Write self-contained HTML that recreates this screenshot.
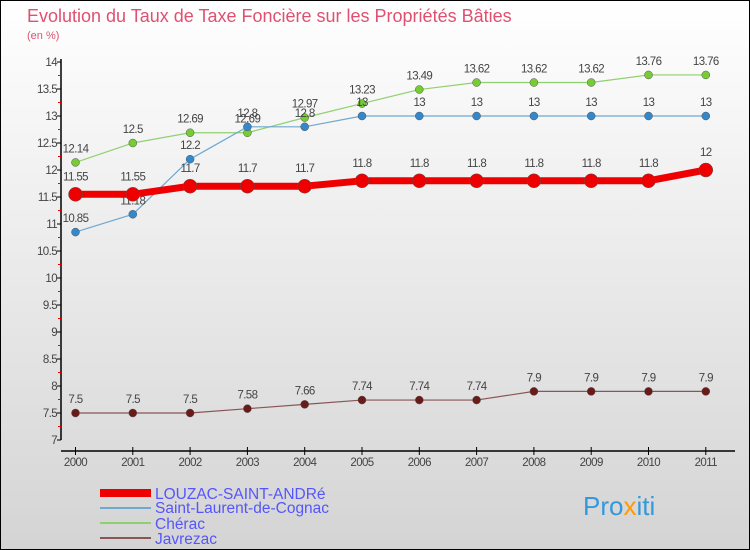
<!DOCTYPE html>
<html><head><meta charset="utf-8"><style>
body{margin:0;width:750px;height:550px;overflow:hidden}
svg{display:block;font-family:"Liberation Sans","DejaVu Sans",sans-serif}
</style></head><body>
<svg width="750" height="550" viewBox="0 0 750 550">
<defs><linearGradient id="bg" x1="0" y1="0" x2="0" y2="1"><stop offset="0" stop-color="#ffffff"/><stop offset="1" stop-color="#d4d4d4"/></linearGradient></defs>
<rect x="0.5" y="0.5" width="749" height="549" fill="url(#bg)" stroke="#000"/>
<text x="27" y="22" font-size="18" fill="#e05070">Evolution du Taux de Taxe Foncière sur les Propriétés Bâties</text>
<text x="27" y="39" font-size="11" fill="#e05070">(en %)</text>
<g id="axes"></g>
<g id="series"></g>
<g>
<rect x="100" y="489" width="51" height="8" fill="#ee0000"/>
<text x="155" y="499" font-size="15.5" fill="#5555ff">LOUZAC-SAINT-ANDRé</text>
<rect x="100" y="507" width="51" height="2" fill="#6fa8d0"/>
<text x="155" y="513" font-size="15.5" fill="#5555ff">Saint-Laurent-de-Cognac</text>
<rect x="100" y="522" width="51" height="2" fill="#90d070"/>
<text x="155" y="529" font-size="15.5" fill="#5555ff">Chérac</text>
<rect x="100" y="537" width="51" height="2" fill="#8a5555"/>
<text x="155" y="544" font-size="15.5" fill="#5555ff">Javrezac</text>
</g>
<text x="583" y="515" font-size="26" fill="#3399dd">Pro<tspan fill="#ff9900">x</tspan>iti</text>
</svg>
<script>
const years=[2000,2001,2002,2003,2004,2005,2006,2007,2008,2009,2010,2011];
const yTicks=[7,7.5,8,8.5,9,9.5,10,10.5,11,11.5,12,12.5,13,13.5,14];
const louzac=[11.55,11.55,11.7,11.7,11.7,11.8,11.8,11.8,11.8,11.8,11.8,12];
const saintLaurent=[10.85,11.18,12.2,12.8,12.8,13,13,13,13,13,13,13];
const cherac=[12.14,12.5,12.69,12.69,12.97,13.23,13.49,13.62,13.62,13.62,13.76,13.76];
const javrezac=[7.5,7.5,7.5,7.58,7.66,7.74,7.74,7.74,7.9,7.9,7.9,7.9];
const NS="http://www.w3.org/2000/svg";
const X=i=>75.5+i*57.3;
const Y=v=>440-(v-7)*54;
function mk(tag,attrs,parent){const e=document.createElementNS(NS,tag);for(const k in attrs)e.setAttribute(k,attrs[k]);parent.appendChild(e);return e;}
const ax=document.getElementById('axes');
let l=mk('line',{x1:61,y1:Y(14)-3,x2:61,y2:Y(7),stroke:'#000','stroke-width':1.5},ax);


yTicks.forEach(v=>{
 const t=mk('line',{x1:57,y1:Y(v),x2:61,y2:Y(v),stroke:'#000'},ax);
 
 
 const lab=mk('text',{x:57,y:Y(v)+4,'text-anchor':'end','font-size':11.5,fill:'#444','letter-spacing':'-0.6'},ax);
 lab.textContent=String(v);
 
 
 if(v<14){const m=mk('line',{x1:58,y1:Y(v+0.25),x2:61,y2:Y(v+0.25),stroke:'#e00'},ax);
 
 }
});
l=mk('line',{x1:61,y1:451,x2:735,y2:451,stroke:'#000','stroke-width':1.5},ax);


years.forEach((yr,i)=>{
 const t=mk('line',{x1:X(i),y1:447,x2:X(i),y2:455,stroke:'#000'},ax);
 
 
 const lab=mk('text',{x:X(i),y:466,'text-anchor':'middle','font-size':11.5,fill:'#444','letter-spacing':'-0.6'},ax);
 lab.textContent=String(yr);
 
 
});
const sg=document.getElementById('series');
function series(name,vals,color,w,r,fill,lblOff){
 const g=mk('g',{},sg);
 
 
 const p=mk('polyline',{points:vals.map((v,i)=>X(i)+','+Y(v)).join(' '),fill:'none',stroke:color,'stroke-width':w,'stroke-linejoin':'round'},g);
 
 
 vals.forEach((v,i)=>{
  const c=mk('circle',{cx:X(i),cy:Y(v),r:r,fill:fill,stroke:'#555','stroke-width':0.5},g);
  
  
  const t=mk('text',{x:X(i),y:Y(v)-lblOff,'text-anchor':'middle','font-size':11.5,fill:'#444','letter-spacing':'-0.6'},g);
  t.textContent=String(v);
  
  
 });
}
series('cherac',cherac,'#90d070',1.2,4,'#77cc33',10);
series('saint-laurent',saintLaurent,'#6fa8d0',1.2,4,'#3388cc',10);
series('javrezac',javrezac,'#8a5555',1.2,4,'#6b1a1a',10);
series('louzac',louzac,'#ee0000',7,7,'#ee0000',14);
</script>
</body></html>
